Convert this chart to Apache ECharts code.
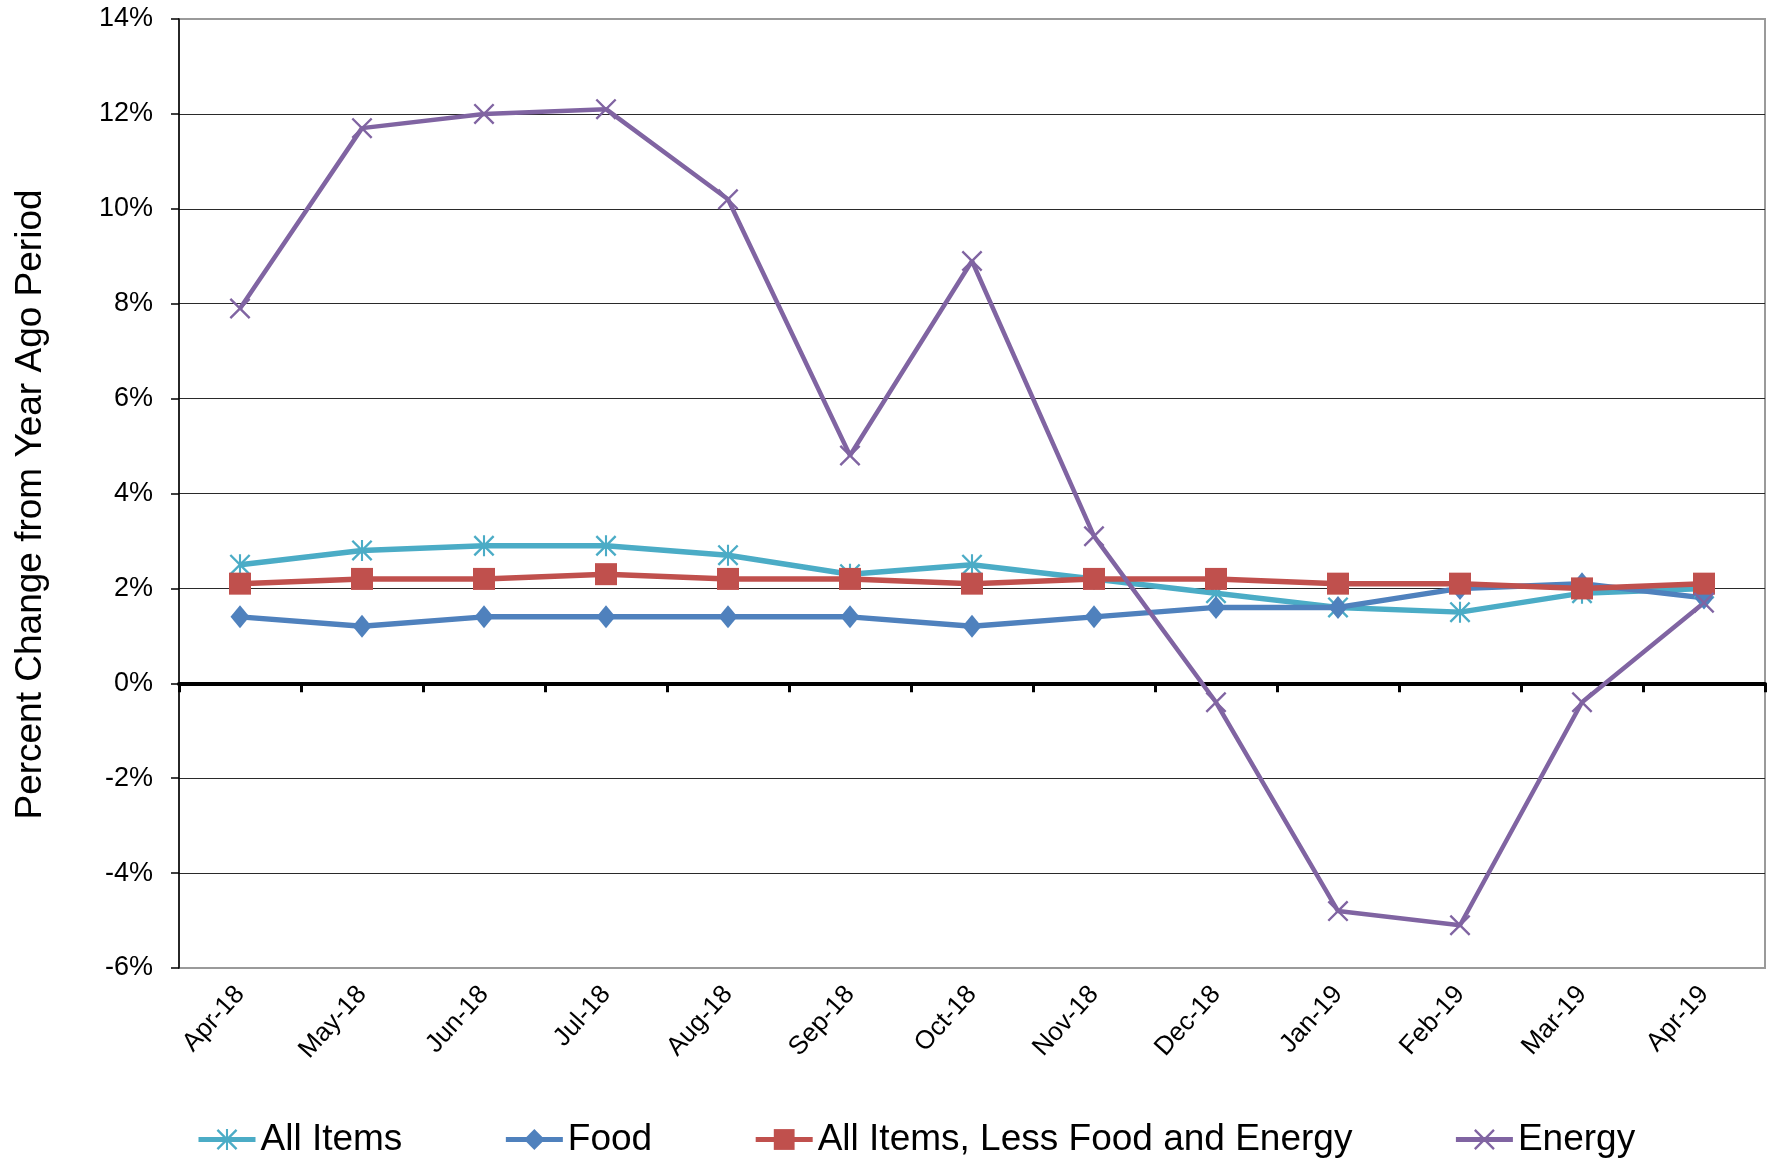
<!DOCTYPE html>
<html>
<head>
<meta charset="utf-8">
<title>CPI change from year ago</title>
<script src="https://cdn.jsdelivr.net/npm/echarts@6/dist/echarts.min.js"></script>
<style>
  html, body { margin: 0; padding: 0; background: #fff; }
  #chart { width: 1774px; height: 1158px; }
</style>
</head>
<body>
<div id="chart"></div>
<script>
// 月份
const months = ['Apr-18', 'May-18', 'Jun-18', 'Jul-18', 'Aug-18', 'Sep-18', 'Oct-18',
  'Nov-18', 'Dec-18', 'Jan-19', 'Feb-19', 'Mar-19', 'Apr-19'];

// 同比变化 (%)
const allItems = [2.5, 2.8, 2.9, 2.9, 2.7, 2.3, 2.5, 2.2, 1.9, 1.6, 1.5, 1.9, 2.0];
const food = [1.4, 1.2, 1.4, 1.4, 1.4, 1.4, 1.2, 1.4, 1.6, 1.6, 2.0, 2.1, 1.8];
const core = [2.1, 2.2, 2.2, 2.3, 2.2, 2.2, 2.1, 2.2, 2.2, 2.1, 2.1, 2.0, 2.1];
const energy = [7.9, 11.7, 12.0, 12.1, 10.2, 4.8, 8.9, 3.1, -0.4, -4.8, -5.1, -0.4, 1.7];

const yTicks = { min: -6, max: 14, interval: 2 };

const FONT = "'Liberation Sans', Arial, sans-serif";

// 标记形状
const xMark = 'path://M0,8 L8,0 L100,92 L92,100 Z M92,0 L100,8 L8,100 L0,92 Z';
const starMark = 'path://M0,8 L8,0 L100,92 L92,100 Z M92,0 L100,8 L8,100 L0,92 Z M45,0 L55,0 L55,100 L45,100 Z';

function lineSeries(name, data, color, symbol, symbolSize, width) {
  return {
    name,
    type: 'line',
    xAxisIndex: 0,
    data,
    symbol,
    symbolSize,
    showAllSymbol: true,
    lineStyle: { color, width },
    itemStyle: { color, borderWidth: 0 },
    emphasis: { disabled: true },
  };
}

const chart = echarts.init(document.getElementById('chart'));

chart.setOption({
  animation: false,
  textStyle: { fontFamily: FONT },
  grid: {
    left: 179,
    right: 9,
    top: 19,
    bottom: 190,
    show: true,
    borderColor: '#9a9a9a',
    borderWidth: 2,
    backgroundColor: 'transparent',
  },
  legend: {
    left: 191,
    top: 1116,
    itemWidth: 57,
    itemHeight: 26,
    itemGap: 101,
    lineStyle: { width: 5 },
    textStyle: { fontSize: 37, color: '#000', fontFamily: FONT },
    data: ['All Items', 'Food', 'All Items, Less Food and Energy', 'Energy'],
  },
  xAxis: [
    {
      type: 'category',
      data: months,
      boundaryGap: true,
      position: 'bottom',
      axisLine: { show: false, onZero: false },
      axisTick: { show: false },
      axisLabel: {
        rotate: 48,
        margin: 22,
        fontSize: 26,
        color: '#000',
        fontFamily: FONT,
        interval: 0,
      },
      splitLine: { show: false },
    },
    {
      // 零线
      type: 'category',
      data: months,
      boundaryGap: true,
      position: 'bottom',
      axisLine: { show: true, onZero: true, lineStyle: { color: '#000', width: 4 } },
      axisTick: { show: true, length: 9, lineStyle: { color: '#000', width: 3 } },
      axisLabel: { show: false },
      splitLine: { show: false },
    },
  ],
  yAxis: {
    type: 'value',
    min: yTicks.min,
    max: yTicks.max,
    interval: yTicks.interval,
    name: 'Percent Change from Year Ago Period',
    nameLocation: 'middle',
    nameGap: 130,
    nameTextStyle: { fontSize: 37, color: '#000', fontFamily: FONT, padding: [0, 22, 0, 0] },
    axisLine: { show: true, lineStyle: { color: '#000', width: 1.5 } },
    axisTick: { show: true, length: 8, lineStyle: { color: '#000', width: 1.5 } },
    axisLabel: {
      formatter: '{value}%',
      fontSize: 27,
      color: '#000',
      margin: 26,
      fontFamily: FONT,
    },
    splitLine: {
      show: true,
      showMinLine: false,
      showMaxLine: false,
      lineStyle: { color: '#2a2a2a', width: 1.2 },
    },
  },
  series: [
    lineSeries('All Items', allItems, '#4BACC6', starMark, 21, 5.5),
    lineSeries('Food', food, '#4F81BD', 'diamond', [19, 23], 5.5),
    lineSeries('All Items, Less Food and Energy', core, '#C0504D', 'rect', 22, 5.5),
    lineSeries('Energy', energy, '#8064A2', xMark, 21, 4.5),
  ],
});
</script>
</body>
</html>
